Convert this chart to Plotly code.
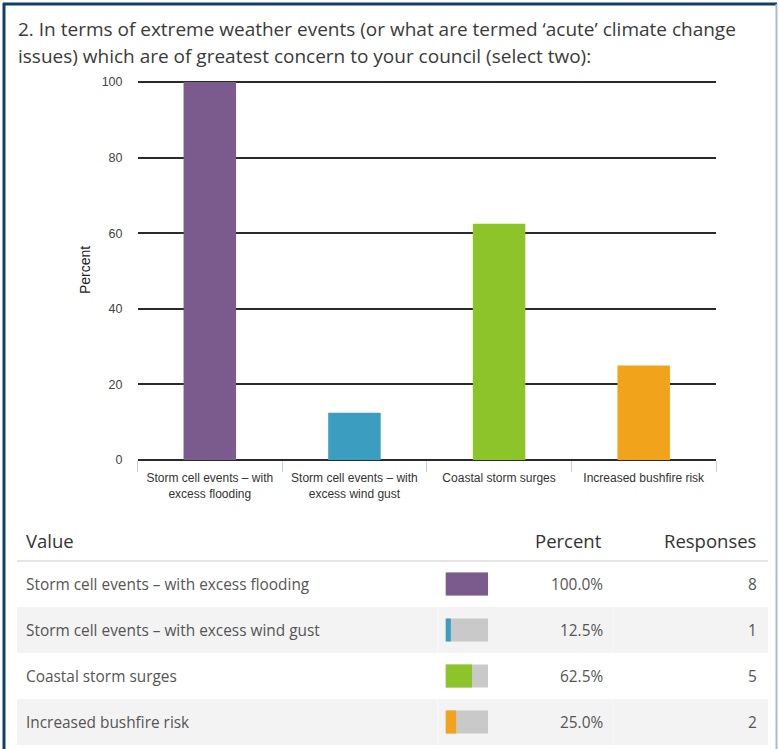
import plotly.graph_objects as go

W, H = 779, 749

# ---------------- data ----------------
title_lines = [
    "2. In terms of extreme weather events (or what are termed \u2018acute\u2019 climate change",
    "issues) which are of greatest concern to your council (select two):",
]
categories = [
    "Storm cell events \u2013 with excess flooding",
    "Storm cell events \u2013 with excess wind gust",
    "Coastal storm surges",
    "Increased bushfire risk",
]
axis_labels = [
    "Storm cell events \u2013 with<br>excess flooding",
    "Storm cell events \u2013 with<br>excess wind gust",
    "Coastal storm surges",
    "Increased bushfire risk",
]
percent = [100.0, 12.5, 62.5, 25.0]
responses = [8, 1, 5, 2]
colors = ["#7b5b8d", "#3b9dc0", "#8dc42a", "#f2a31c"]
y_ticks = [0, 20, 40, 60, 80, 100]


def px(x):
    return x / W


def py(y):
    return 1 - y / H


fig = go.Figure()

# main bar chart
fig.add_trace(go.Bar(
    x=axis_labels, y=percent, marker=dict(color=colors, line=dict(width=0)),
    width=0.363, xaxis="x", yaxis="y", hoverinfo="skip", showlegend=False,
))

# mini bars in the table (background 100% + value)
fig.add_trace(go.Bar(
    x=[100] * len(categories), y=categories, orientation="h",
    marker=dict(color="#c9c9c9", line=dict(width=0)), width=0.5,
    xaxis="x2", yaxis="y2", hoverinfo="skip", showlegend=False,
))
fig.add_trace(go.Bar(
    x=percent, y=categories, orientation="h",
    marker=dict(color=colors, line=dict(width=0)), width=0.5,
    xaxis="x2", yaxis="y2", hoverinfo="skip", showlegend=False,
))

row_top = 561
row_h = 46
n = len(categories)

shapes = []
annotations = []

GRID = "#2a2a2a"

# frame
shapes.append(dict(type="line", xref="paper", yref="paper", x0=px(4), x1=px(4), y0=py(3), y1=py(749),
                   line=dict(color="#123d6e", width=3)))
shapes.append(dict(type="line", xref="paper", yref="paper", x0=px(3), x1=px(777), y0=py(4), y1=py(4),
                   line=dict(color="#123d6e", width=3)))
shapes.append(dict(type="line", xref="paper", yref="paper", x0=px(776.5), x1=px(776.5), y0=py(4), y1=py(749),
                   line=dict(color="#a9bcd3", width=2)))

# title
for i, t in enumerate(title_lines):
    annotations.append(dict(text=t, xref="paper", yref="paper", x=px(16), y=py(29 + 27 * i),
                            xanchor="left", yanchor="middle", showarrow=False,
                            font=dict(family="Open Sans", size=19, color="#3a3a3a")))

# y axis title
annotations.append(dict(text="Percent", xref="paper", yref="paper", x=px(85), y=py(270),
                        textangle=-90, xanchor="center", yanchor="middle", showarrow=False,
                        font=dict(family="Liberation Sans", size=14, color="#222")))

# table header
hdr_font = dict(family="Open Sans", size=18.5, color="#333")
annotations.append(dict(text="Value", xref="paper", yref="paper", x=px(24), y=py(540),
                        xanchor="left", yanchor="middle", showarrow=False, font=hdr_font))
annotations.append(dict(text="Percent", xref="paper", yref="paper", x=px(604), y=py(540),
                        xanchor="right", yanchor="middle", showarrow=False, font=hdr_font))
annotations.append(dict(text="Responses", xref="paper", yref="paper", x=px(758), y=py(540),
                        xanchor="right", yanchor="middle", showarrow=False, font=hdr_font))
shapes.append(dict(type="line", xref="paper", yref="paper", x0=px(17), x1=px(768), y0=py(561), y1=py(561),
                   line=dict(color="#dcdcdc", width=1.5)))

row_font = dict(family="Open Sans", size=15.4, color="#555")
for i in range(n):
    top = row_top + row_h * i
    cy = top + row_h / 2
    if i % 2 == 1:
        shapes.append(dict(type="rect", xref="paper", yref="paper", x0=px(17), x1=px(768),
                           y0=py(top + row_h), y1=py(top), fillcolor="#f3f3f3",
                           line=dict(width=0), layer="below"))
        for xs in (437.5, 613):
            shapes.append(dict(type="line", xref="paper", yref="paper", x0=px(xs), x1=px(xs),
                               y0=py(top + row_h), y1=py(top), line=dict(color="#f8f8f8", width=1),
                               layer="below"))
    annotations.append(dict(text=categories[i], xref="paper", yref="paper", x=px(24), y=py(cy),
                            xanchor="left", yanchor="middle", showarrow=False, font=row_font))
    annotations.append(dict(text=f"{percent[i]:.1f}%", xref="paper", yref="paper", x=px(605), y=py(cy),
                            xanchor="right", yanchor="middle", showarrow=False, font=row_font))
    annotations.append(dict(text=str(responses[i]), xref="paper", yref="paper", x=px(759), y=py(cy),
                            xanchor="right", yanchor="middle", showarrow=False, font=row_font))

y_max = 100.3  # a little headroom so the 100 gridline is drawn
plot_top = 82 - (y_max - 100) * (460 - 82) / 100

fig.update_layout(
    width=W, height=H,
    margin=dict(l=0, r=0, t=0, b=0, autoexpand=False),
    paper_bgcolor="white",
    plot_bgcolor="rgba(0,0,0,0)",
    barmode="overlay",
    showlegend=False,
    xaxis=dict(
        domain=[px(137.5), px(716)], anchor="y", type="category", automargin=False,
        showgrid=False, zeroline=False, showline=False,
        ticks="outside", tickson="boundaries", ticklen=11, tickwidth=1, tickcolor="#c6cfdb",
        ticklabelstandoff=9,
        tickfont=dict(family="Liberation Sans", size=12, color="#333"),
        fixedrange=True,
    ),
    yaxis=dict(
        domain=[py(460), py(plot_top)], anchor="x", range=[0, y_max], automargin=False,
        tickvals=y_ticks, ticktext=[str(v) for v in y_ticks],
        showgrid=True, gridcolor=GRID, gridwidth=2,
        zeroline=True, zerolinecolor=GRID, zerolinewidth=2,
        showline=False, ticks="", ticklabelstandoff=14,
        tickfont=dict(family="Liberation Sans", size=12.5, color="#444"),
        fixedrange=True,
    ),
    xaxis2=dict(
        domain=[px(445.5), px(488)], anchor="y2", range=[0, 100], automargin=False,
        visible=False, fixedrange=True,
    ),
    yaxis2=dict(
        domain=[py(row_top + row_h * n), py(row_top)], anchor="x2", type="category",
        categoryorder="array", categoryarray=categories, automargin=False,
        range=[n - 0.5, -0.5], visible=False, fixedrange=True,
    ),
    shapes=shapes,
    annotations=annotations,
)

fig.write_html("out.html")
